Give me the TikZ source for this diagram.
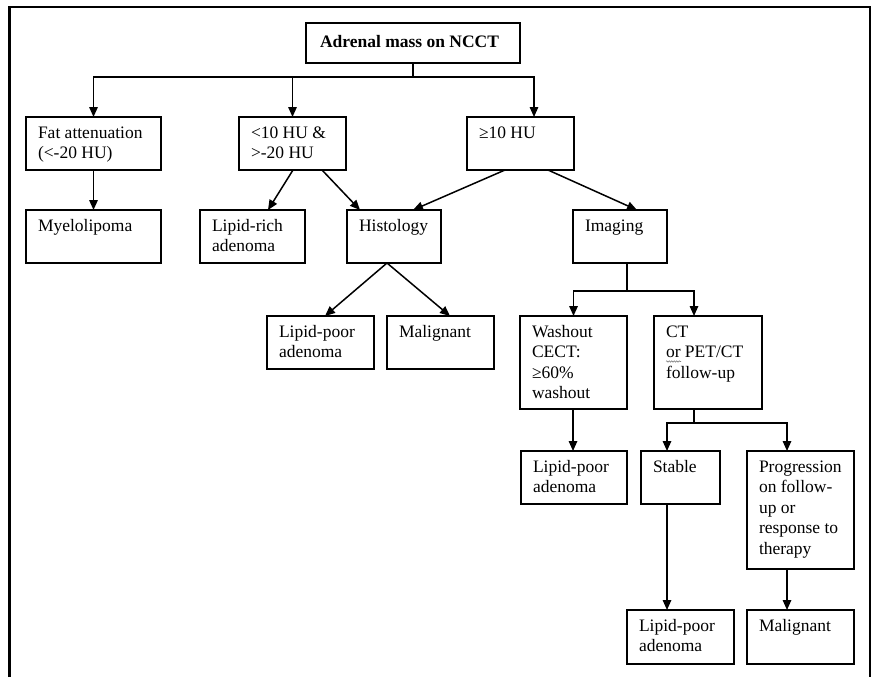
\documentclass[tikz,border=0pt]{standalone}
\usepackage{fontspec}
\setmainfont{Liberation Serif}
\usetikzlibrary{arrows.meta,decorations.pathmorphing}
\tikzset{
  bx/.style={draw=black, line width=1.6pt, rectangle, inner sep=0pt, outer sep=0pt},
  lbl/.style={anchor=north west, inner sep=0pt, outer sep=0pt, align=left,
    font=\fontsize{17.5}{20.5}\selectfont},
  arr/.style={draw=black, line width=1.5pt, -{Triangle[length=10pt,width=8.5pt]}},
  ln/.style={draw=black, line width=1.5pt},
  frame/.style={draw=black, line width=2.2pt}
}
\newcommand{\fbx}[6]{%
  \node[bx, minimum width={#4-#2}, minimum height={#5-#3}, anchor=north west] (#1) at (#2,#3) {};
  \node[lbl] (#1-t) at ([xshift=12pt,yshift=-7pt]#1.north west) {\rule{0pt}{14pt}#6};
}
\begin{document}
\begin{tikzpicture}[x=1pt,y=-1pt]
\useasboundingbox (0,0) rectangle (872,677);
\draw[frame] (9.5,677) -- (9.5,7) -- (870,7) -- (870,677);

% root
\node[bx, minimum width=214, minimum height=40, anchor=north west] (root) at (306,23) {};
\node[lbl, font=\fontsize{17.5}{20.5}\selectfont\bfseries] (root-t) at ([xshift=14pt,yshift=-11pt]root.north west) {\rule{0pt}{14pt}Adrenal mass on NCCT};

% level 1
\fbx{fat}{26}{117}{161}{170}{Fat attenuation\\(<-20 HU)}
\fbx{lt10}{239}{117}{346}{170}{<10 HU \&\\>-20 HU}
\fbx{ge10}{467}{117}{574}{170}{≥10 HU}

% level 2
\fbx{myelo}{26}{210}{161}{263}{Myelolipoma}
\fbx{lrich}{200}{210}{305}{263}{Lipid-rich\\adenoma}
\fbx{histo}{347}{210}{441}{263}{Histology}
\fbx{imag}{573}{210}{667}{263}{Imaging}

% level 3
\fbx{lpoor1}{267}{316}{374}{369}{Lipid-poor\\adenoma}
\fbx{malig1}{387}{316}{494}{369}{Malignant}
\fbx{wash}{520}{316}{627}{409}{Washout\\CECT:\\≥60\%\\washout}
\fbx{ctpet}{654}{316}{762}{409}{CT\\or PET/CT\\follow-up}

% level 4
\fbx{lpoor2}{521}{451}{627}{504}{Lipid-poor\\adenoma}
\fbx{stable}{641}{451}{720}{504}{Stable}
\fbx{prog}{747}{451}{854}{569}{Progression\\on follow-\\up or\\response to\\therapy}

% level 5
\fbx{lpoor3}{627}{610}{734}{664}{Lipid-poor\\adenoma}
\fbx{malig2}{747}{610}{854}{664}{Malignant}

% squiggle under "or"
\draw[gray, line width=0.6pt, decorate, decoration={snake, amplitude=0.7pt, segment length=2.5pt}] (666,361.5) -- (681,361.5);

% connectors
\coordinate (j1) at (413,77);
\draw[ln] (root.south) -- (j1);
\draw[arr] (j1) -| (fat.north);
\draw[arr] (j1) -| (lt10.north);
\draw[arr] (j1) -| (534,0 |- ge10.north);

\draw[arr] (fat.south) -- (myelo.north);
\draw[arr] (293,0 |- lt10.south) -- (268,0 |- lrich.north);
\draw[arr] (322,0 |- lt10.south) -- (360,0 |- histo.north);
\draw[arr] (505,0 |- ge10.south) -- (413,0 |- histo.north);
\draw[arr] (548,0 |- ge10.south) -- (637,0 |- imag.north);

\draw[arr] (387,0 |- histo.south) -- (325,0 |- lpoor1.north);
\draw[arr] (387,0 |- histo.south) -- (450,0 |- malig1.north);

\coordinate (j2) at (627,291);
\draw[ln] (627,0 |- imag.south) -- (j2);
\draw[arr] (j2) -| (wash.north);
\draw[arr] (j2) -| (694,0 |- ctpet.north);

\draw[arr] (573,0 |- wash.south) -- (573,0 |- lpoor2.north);

\coordinate (j3) at (694,423);
\draw[ln] (694,0 |- ctpet.south) -- (j3);
\draw[arr] (j3) -| (667,0 |- stable.north);
\draw[arr] (j3) -| (787,0 |- prog.north);

\draw[arr] (667,0 |- stable.south) -- (667,0 |- lpoor3.north);
\draw[arr] (787,0 |- prog.south) -- (787,0 |- malig2.north);
\end{tikzpicture}
\end{document}
